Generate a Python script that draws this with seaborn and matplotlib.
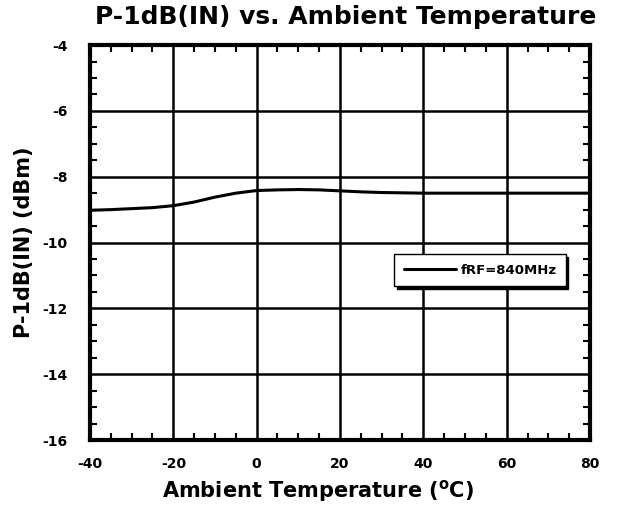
import numpy as np
import pandas as pd
import seaborn as sns
import matplotlib.pyplot as plt
from matplotlib.ticker import MultipleLocator

# data
temps = [-40, -35, -30, -25, -20, -15, -10, -5, 0, 5, 10, 15, 20, 25, 30, 40, 50, 60, 70, 80]
p1db = [-9.02, -9.00, -8.97, -8.94, -8.88, -8.77, -8.62, -8.50, -8.42, -8.40,
        -8.39, -8.40, -8.43, -8.46, -8.48, -8.50, -8.50, -8.50, -8.50, -8.50]
series_label = "fRF=840MHz"

df = pd.DataFrame({"temp": temps, "p1db": p1db, "series": series_label})

sns.set_style("ticks")
plt.rcParams["font.family"] = ["DejaVu Sans"]
plt.rcParams["font.weight"] = "bold"
plt.rcParams["axes.unicode_minus"] = False
plt.rcParams["mathtext.default"] = "bf"
for key in ["text.color", "axes.labelcolor", "xtick.color", "ytick.color", "axes.edgecolor"]:
    plt.rcParams[key] = "black"

fig = plt.figure(figsize=(6.18, 5.12), dpi=100)
ax = fig.add_axes([0.1456, 0.1406, 0.8091, 0.7714])

sns.lineplot(data=df, x="temp", y="p1db", hue="series", palette=["black"],
             linewidth=2.2, ax=ax, zorder=3)

ax.set_xlim(-40, 80)
ax.set_ylim(-16, -4)
ax.xaxis.set_major_locator(MultipleLocator(20))
ax.xaxis.set_minor_locator(MultipleLocator(5))
ax.yaxis.set_major_locator(MultipleLocator(2))
ax.yaxis.set_minor_locator(MultipleLocator(0.5))
ax.grid(True, which="major", color="black", linewidth=1.8)
ax.tick_params(which="both", direction="in", top=True, right=True, color="black")
ax.tick_params(which="major", length=0, labelsize=10, labelcolor="black")
ax.tick_params(axis="x", which="major", pad=12)
ax.tick_params(axis="y", which="major", pad=16)
ax.tick_params(which="minor", length=5, width=1.5)
for lab in ax.get_xticklabels() + ax.get_yticklabels():
    lab.set_fontweight("bold")
for s in ax.spines.values():
    s.set_linewidth(3)
    s.set_color("black")

ax.set_xlabel("Ambient Temperature ($^{o}$C)", fontsize=15, fontweight="bold", color="black")
ax.xaxis.set_label_coords(0.455, -0.095)
ax.set_ylabel("P-1dB(IN) (dBm)", fontsize=15, fontweight="bold", labelpad=6, color="black")
fig.suptitle("P-1dB(IN) vs. Ambient Temperature", fontsize=18, fontweight="bold",
             y=0.99, x=0.56, color="black")

leg = ax.legend(loc="center", bbox_to_anchor=(0.78, 0.43), frameon=True, fancybox=False,
                shadow={"color": "black", "alpha": 1}, edgecolor="black", fontsize=9.5,
                handlelength=4.0, handletextpad=0.3, borderpad=0.7)
leg.get_frame().set_linewidth(1)
for t in leg.get_texts():
    t.set_fontweight("bold")
    t.set_color("black")

fig.savefig("out.png", dpi=100)
